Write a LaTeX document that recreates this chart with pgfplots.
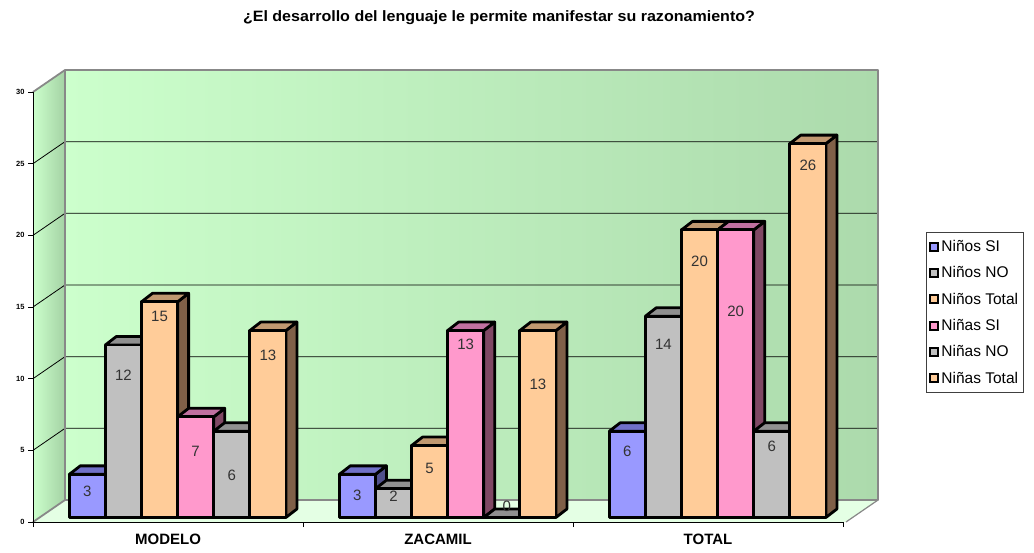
\documentclass[border=0pt]{standalone}
\usepackage{pgfplots}
\pgfplotsset{compat=1.18}
\usepackage{fontspec}
\setmainfont{Liberation Sans}

\definecolor{wallL}{RGB}{204,255,204}
\definecolor{wallR}{RGB}{172,218,172}
\definecolor{lwallB}{RGB}{164,210,164}
\definecolor{floorC}{RGB}{228,255,228}
\definecolor{edgeC}{RGB}{136,136,136}
\definecolor{bF}{RGB}{153,153,255}
\definecolor{bT}{RGB}{112,112,200}
\definecolor{bS}{RGB}{80,80,140}
\definecolor{gF}{RGB}{192,192,192}
\definecolor{gT}{RGB}{144,144,144}
\definecolor{gS}{RGB}{100,100,100}
\definecolor{oF}{RGB}{255,204,153}
\definecolor{oT}{RGB}{192,152,112}
\definecolor{oS}{RGB}{128,96,72}
\definecolor{pF}{RGB}{255,153,204}
\definecolor{pT}{RGB}{192,112,160}
\definecolor{pS}{RGB}{128,72,100}

\pgfdeclareplotmark{nothing}{}

\pgfplotsset{
  bar3d/.style n args={4}{%
    only marks, mark=nothing, scatter,
    point meta=y, point meta min=0, point meta max=30,
    scatter/@pre marker code/.code={%
      \pgfmathsetmacro\hh{\pgfplotspointmetatransformed*0.4314}%
      \pgfmathsetmacro\yb{4.5-\pgfplotspointmetatransformed*0.43}%
      \pgfmathsetmacro\yt{\yb+\hh}%
      \pgfmathsetmacro\xl{#1-18.05}%
      \pgfmathsetmacro\xr{#1+18.05}%
      \pgfmathsetmacro\xrr{\xr+11}%
      \pgfmathsetmacro\xlr{\xl+11}%
      \pgfmathsetmacro\ybb{\yb+8.5}%
      \pgfmathsetmacro\ytt{\yt+8.5}%
      \draw[black, line width=2.8pt, line join=round, fill=#4] (\xr pt,\yb pt) -- (\xrr pt,\ybb pt) -- (\xrr pt,\ytt pt) -- (\xr pt,\yt pt) -- cycle;
      \draw[black, line width=2.8pt, line join=round, fill=#3] (\xl pt,\yt pt) -- (\xlr pt,\ytt pt) -- (\xrr pt,\ytt pt) -- (\xr pt,\yt pt) -- cycle;
      \draw[black, line width=2.8pt, line join=round, fill=#2] (\xl pt,\yb pt) rectangle (\xr pt,\yt pt);
    },
    scatter/@post marker code/.code={},
    legend image code/.code={\draw[black, line width=2pt, fill=#2] (1pt,-4pt) rectangle (9pt,4pt);},
  },
}

\begin{document}
\begin{tikzpicture}
\useasboundingbox (-33pt,-30pt) rectangle (1001pt,522pt);
% left wall, back wall, floor
\shade[left color=wallL, right color=lwallB] (0pt,0pt) -- (32pt,22pt) -- (32pt,452pt) -- (0pt,430pt) -- cycle;
\shade[left color=wallL, right color=wallR] (32pt,22pt) rectangle (845pt,452pt);
\fill[floorC] (0pt,0pt) -- (813pt,0pt) -- (845pt,22pt) -- (32pt,22pt) -- cycle;
\foreach \v in {5,10,...,25} {
  \draw[black, line width=0.8pt] (0pt,\v*14.33333pt) -- (32pt,22pt+\v*14.33333pt) -- (845pt,22pt+\v*14.33333pt);
}
\draw[edgeC, line width=1.8pt, line join=round] (0pt,430pt) -- (32pt,452pt) -- (845pt,452pt) -- (845pt,22pt) -- (32pt,22pt) -- (32pt,452pt);
\draw[edgeC, line width=1.8pt] (0pt,0pt) -- (32pt,22pt);
\draw[edgeC, line width=1.2pt] (813pt,0pt) -- (845pt,22pt);
\node[font=\fontsize{15}{17}\selectfont\bfseries, xscale=1.07] at (466pt,504pt) {¿El desarrollo del lenguaje le permite manifestar su razonamiento?};

\begin{axis}[
  at={(0pt,0pt)}, anchor=south west,
  width=810pt, height=430pt, scale only axis,
  xmin=0, xmax=3, ymin=0, ymax=30,
  clip=false,
  axis x line=bottom, axis y line=left,
  axis line style={-, black, line width=1pt},
  tick align=outside, major tick length=5pt,
  tick style={black, line width=0.8pt},
  ytick={0,5,...,30},
  /pgf/number format/assume math mode=true,
  yticklabel style={font=\fontsize{7.5}{8}\selectfont\bfseries},
  xtick={0,1,2,3}, xticklabels={},
  extra x ticks={0.5,1.5,2.5},
  extra x tick labels={MODELO,ZACAMIL,TOTAL},
  extra x tick style={major tick length=0pt, xticklabel style={font=\fontsize{15}{17}\selectfont\bfseries, yshift=-8pt}},
  legend style={at={(1.1025,0.6744)}, anchor=north west, draw=black!75, line width=0.8pt,
    font=\fontsize{15.5}{17}\selectfont, inner xsep=3pt, inner ysep=6pt, row sep=9.6pt, fill=white},
  legend cell align=left,
]
\addplot[bar3d={-80.65}{bF}{bT}{bS}] coordinates {(0.5,3) (1.5,3) (2.5,6)};
\addlegendentry{Niños SI}
\addplot[bar3d={-44.55}{gF}{gT}{gS}] coordinates {(0.5,12) (1.5,2) (2.5,14)};
\addlegendentry{Niños NO}
\addplot[bar3d={-8.45}{oF}{oT}{oS}] coordinates {(0.5,15) (1.5,5) (2.5,20)};
\addlegendentry{Niños Total}
\addplot[bar3d={27.65}{pF}{pT}{pS}] coordinates {(0.5,7) (1.5,13) (2.5,20)};
\addlegendentry{Niñas SI}
\addplot[bar3d={63.75}{gF}{gT}{gS}] coordinates {(0.5,6) (1.5,0) (2.5,6)};
\addlegendentry{Niñas NO}
\addplot[bar3d={99.85}{oF}{oT}{oS}] coordinates {(0.5,13) (1.5,13) (2.5,26)};
\addlegendentry{Niñas Total}
% value labels
\addplot[forget plot, only marks, mark=nothing, nodes near coords, nodes near coords align={center},
  point meta=explicit symbolic,
  every node near coord/.style={font=\fontsize{15}{16}\selectfont, text=black!80, inner sep=0pt}]
  coordinates {
  (0.2013,2.114)[3] (1.2013,1.884)[3] (2.2013,4.905)[6]
  (0.3350,10.256)[12] (1.3350,1.765)[2] (2.3350,12.419)[14]
  (0.4687,14.323)[15] (1.4687,3.747)[5] (2.4687,18.16)[20]
  (0.6024,4.905)[7] (1.6024,12.398)[13] (2.6024,14.672)[20]
  (0.7361,3.279)[6] (1.7546,1.067)[0] (2.7361,5.253)[6]
  (0.8698,11.651)[13] (1.8698,9.628)[13] (2.8698,24.907)[26]
  };
\end{axis}
\end{tikzpicture}
\end{document}
